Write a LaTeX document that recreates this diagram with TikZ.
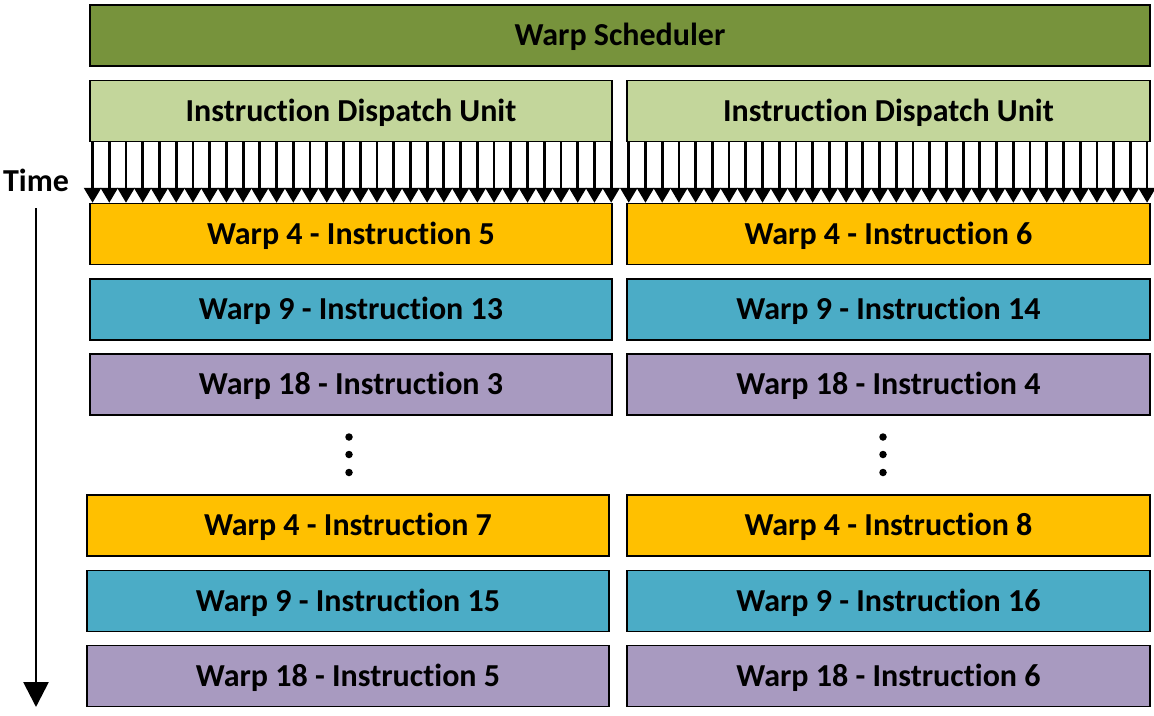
\documentclass[tikz,border=0pt]{standalone}
\usepackage{fontspec}
\setmainfont{Carlito}[Ligatures=NoCommon]
\usetikzlibrary{arrows.meta}
\definecolor{schedgreen}{HTML}{77933C}
\definecolor{idugreen}{HTML}{C3D69B}
\definecolor{warporange}{HTML}{FFC000}
\definecolor{warpblue}{HTML}{4BACC6}
\definecolor{warppurple}{HTML}{A89AC0}
\tikzset{
  box/.style={draw=black, line width=1.5pt, minimum width=522pt, minimum height=61pt, inner sep=0pt,
    text height=20.5pt, text depth=0pt,
    font=\fontsize{32}{36}\selectfont\bfseries},
  disp/.style={line width=2.8pt, -{Triangle[width=17pt,length=15pt]}},
  timearrow/.style={line width=2.8pt, -{Triangle[width=25pt,length=25pt]}},
  dot/.style={circle, fill=black, inner sep=0pt, minimum size=7.5pt}
}
\begin{document}
\begin{tikzpicture}[x=1pt,y=-1pt]
\useasboundingbox (0,0) rectangle (1154,715);
\node[box, fill=schedgreen, minimum width=1060pt] (ws) at (620,35.5) {Warp Scheduler};
\node[box, fill=idugreen] (idu1) at (351,111) {Instruction Dispatch Unit};
\node[box, fill=idugreen, minimum width=523pt] (idu2) at (888.5,111) {Instruction Dispatch Unit};
\node[box, fill=warporange] (a1) at (351,234) {Warp 4 - Instruction 5};
\node[box, fill=warporange, minimum width=523pt] (a2) at (888.5,234) {Warp 4 - Instruction 6};
\node[box, fill=warpblue] (b1) at (351,309.5) {Warp 9 - Instruction 13};
\node[box, fill=warpblue, minimum width=523pt] (b2) at (888.5,309.5) {Warp 9 - Instruction 14};
\node[box, fill=warppurple] (c1) at (351,384.5) {Warp 18 - Instruction 3};
\node[box, fill=warppurple, minimum width=523pt] (c2) at (888.5,384.5) {Warp 18 - Instruction 4};
\node[dot] (d1) at (349,437) {};
\node[dot] (d2) at (349,454.5) {};
\node[dot] (d3) at (349,472.5) {};
\node[dot] (e1) at (883,437) {};
\node[dot] (e2) at (883,454.5) {};
\node[dot] (e3) at (883,472.5) {};
\node[box, fill=warporange] (f1) at (348,525.5) {Warp 4 - Instruction 7};
\node[box, fill=warporange, minimum width=523pt] (f2) at (888.5,525.5) {Warp 4 - Instruction 8};
\node[box, fill=warpblue] (g1) at (348,601) {Warp 9 - Instruction 15};
\node[box, fill=warpblue, minimum width=523pt] (g2) at (888.5,601) {Warp 9 - Instruction 16};
\node[box, fill=warppurple] (h1) at (348,676) {Warp 18 - Instruction 5};
\node[box, fill=warppurple, minimum width=523pt] (h2) at (888.5,676) {Warp 18 - Instruction 6};
\foreach \i in {0,...,31} {
  \draw[disp] ([xshift=3.3pt+\i*16.73pt]idu1.south west) -- ([xshift=3.3pt+\i*16.73pt]a1.north west);
  \draw[disp] ([xshift=2.5pt+\i*16.72pt]idu2.south west) -- ([xshift=2.5pt+\i*16.72pt]a2.north west);
}
\node[font=\fontsize{32}{36}\selectfont\bfseries, inner sep=0pt, text height=20.5pt, text depth=0pt] (time) at (36,181) {Time};
\coordinate (tend) at (36,707);
\draw[timearrow] ([yshift=-17pt]time.south) -- (tend);
\end{tikzpicture}
\end{document}
